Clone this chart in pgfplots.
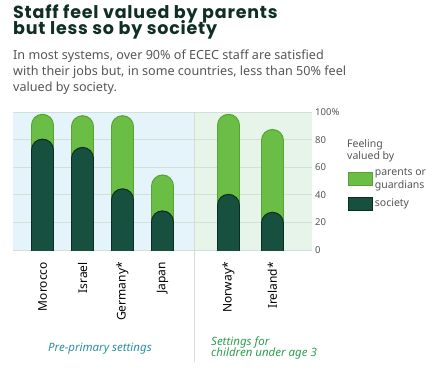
\documentclass[border=0pt]{standalone}
\usepackage{fontspec}
\setmainfont{Noto Sans}
\newfontfamily\titlefont{Poppins}[LetterSpace=4.5]
\usepackage{pgfplots}
\usepackage{pgfplotstable}
\pgfplotsset{compat=1.18}
\definecolor{lg}{HTML}{6BBE45}
\definecolor{lgo}{HTML}{56A332}
\definecolor{dg}{HTML}{17503F}
\definecolor{dgo}{HTML}{0B2C22}
\definecolor{bgb}{HTML}{E4F4FA}
\definecolor{bgg}{HTML}{E7F4E9}
\definecolor{gridc}{HTML}{CFE2DA}
\definecolor{titlec}{HTML}{0F2E25}
\definecolor{subc}{HTML}{555555}
\definecolor{tealc}{HTML}{2A8FA0}
\definecolor{greenc}{HTML}{2E9E4F}
\definecolor{divc}{HTML}{D2DFD0}

% x positions: Morocco, Israel, Germany*, Japan | Norway*, Ireland*
\pgfplotstableread{
x     y
0     98
1     97
2     97
3     54
4.65  98
5.75  87
}\parents
\pgfplotstableread{
x     y
0     80
1     74
2     44
3     28
4.65  40
5.75  27
}\society

\begin{document}
\begin{tikzpicture}
\path[use as bounding box] (0pt,0pt) rectangle (444pt,-376pt);
% title
\node[anchor=base west, inner sep=0, font=\titlefont\fontsize{17.5}{16}\selectfont\bfseries, text=titlec] at (13pt,-18.5pt) {Staff feel valued by parents};
\node[anchor=base west, inner sep=0, font=\titlefont\fontsize{17.5}{16}\selectfont\bfseries, text=titlec] at (13pt,-34.5pt) {but less so by society};
% subtitle
\node[anchor=base west, inner sep=0, font=\fontsize{12.6}{15}\selectfont, text=subc] at (13pt,-59.5pt) {In most systems, over 90\% of ECEC staff are satisfied};
\node[anchor=base west, inner sep=0, font=\fontsize{12.6}{15}\selectfont, text=subc] at (13pt,-75.5pt) {with their jobs but, in some countries, less than 50\% feel};
\node[anchor=base west, inner sep=0, font=\fontsize{12.6}{15}\selectfont, text=subc] at (13pt,-91.5pt) {valued by society.};
% panel backgrounds
\fill[bgb] (13pt,-250pt) rectangle (194pt,-112pt);
\fill[bgg] (194pt,-250pt) rectangle (312pt,-112pt);

\begin{axis}[
  at={(13pt,-250pt)}, anchor=south west,
  scale only axis, width=299pt, height=138pt,
  xmin=-0.74, xmax=6.74, ymin=0, ymax=100,
  axis line style={draw=none},
  tick style={draw=none},
  major tick length=0pt,
  ytick={0,20,40,60,80,100},
  yticklabels={0,20,40,60,80,100\%},
  yticklabel pos=right,
  yticklabel style={anchor=west, font=\fontsize{9.5}{11}\selectfont, text=subc, inner sep=0pt, xshift=3pt},
  ymajorgrids,
  grid style={gridc, line width=0.8pt},
  xtick={0,1,2,3,4.65,5.75},
  xticklabels={Morocco,Israel,Germany*,Japan,Norway*,Ireland*},
  xticklabel style={rotate=90, anchor=east, inner sep=0pt, font=\fontsize{12}{14}\selectfont, text=black},
  xticklabel shift=12pt,
  legend style={at={(1.12,0.605)}, anchor=north west, draw=none, fill=none,
    inner sep=0pt, font=\fontsize{10.5}{12.5}\selectfont, text=subc,
    cells={anchor=west, align=left}, row sep=5pt},
  legend cell align=left,
]
\addplot[ycomb, no marks, draw=lgo, line width=23pt, line cap=round, yshift=-10.5pt, forget plot] table[x=x,y=y] {\parents};
\addplot[ycomb, no marks, draw=lg, line width=20.6pt, line cap=round, yshift=-10.5pt, forget plot] table[x=x,y=y] {\parents};
\addplot[ycomb, no marks, draw=dgo, line width=23pt, line cap=round, yshift=-10.5pt, forget plot] table[x=x,y=y] {\society};
\addplot[ycomb, no marks, draw=dg, line width=20.6pt, line cap=round, yshift=-10.5pt, forget plot] table[x=x,y=y] {\society};
\addlegendimage{legend image code/.code={\draw[fill=lg, draw=lgo, line width=0.8pt] (0pt,-6.5pt) rectangle (24pt,6.5pt);}}
\addlegendentry{parents or\\guardians}
\addlegendimage{legend image code/.code={\draw[fill=dg, draw=dgo, line width=0.8pt] (0pt,-6.5pt) rectangle (24pt,6.5pt);}}
\addlegendentry{society}
\end{axis}
% divider
\draw[divc, line width=1pt] (194pt,-112pt) -- (194pt,-362pt);
% legend title
\node[anchor=base west, inner sep=0, font=\fontsize{10.5}{12.5}\selectfont, text=subc] at (347pt,-147pt) {Feeling};
\node[anchor=base west, inner sep=0, font=\fontsize{10.5}{12.5}\selectfont, text=subc] at (347pt,-159.5pt) {valued by};
% group labels
\node[anchor=base west, inner sep=0, font=\fontsize{11.5}{12}\selectfont\itshape, text=tealc] at (48pt,-351pt) {Pre-primary settings};
\node[anchor=base west, inner sep=0, font=\fontsize{11.5}{12}\selectfont\itshape, text=greenc] at (211pt,-345.5pt) {Settings for};
\node[anchor=base west, inner sep=0, font=\fontsize{11.5}{12}\selectfont\itshape, text=greenc] at (211pt,-356.5pt) {children under age 3};
\end{tikzpicture}
\end{document}
